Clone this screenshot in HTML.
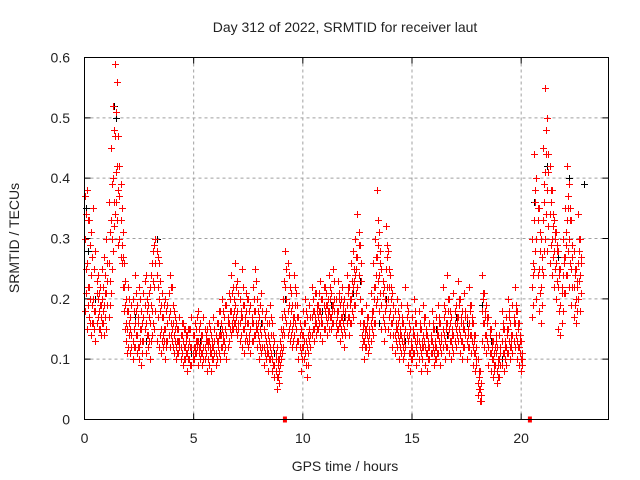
<!DOCTYPE html>
<html><head><meta charset="utf-8"><style>
html,body{margin:0;padding:0;background:#fff}
svg{display:block;font-family:"Liberation Sans",sans-serif}
</style></head><body>
<svg id="chart" width="640" height="480" viewBox="0 0 640 480">
<text x="345" y="32" font-size="14" text-anchor="middle" fill="#222">Day 312 of 2022, SRMTID for receiver laut</text>
<text x="345" y="471" font-size="14" text-anchor="middle" fill="#222">GPS time / hours</text>
<text transform="translate(19,238) rotate(-90)" font-size="14" text-anchor="middle" fill="#222">SRMTID / TECUs</text>
<g id="grid"></g>
<g id="ticks"></g>
<g id="black"></g>
<g id="red"></g>
<rect x="84.5" y="57.5" width="524" height="362" fill="none" stroke="#000" stroke-width="1"/>
</svg>
<script>
const xTicks=[0,5,10,15,20];
const yTicks=[0,0.1,0.2,0.3,0.4,0.5,0.6];
const yTickLabels=["0","0.1","0.2","0.3","0.4","0.5","0.6"];
const hours=[0.0,0.1,0.2,0.3,0.4,0.5,0.6,0.7,0.8,0.9,1.0,1.1,1.2,1.3,1.4,1.5,1.6,1.7,1.8,1.9,2.0,2.1,2.2,2.3,2.4,2.5,2.6,2.7,2.8,2.9,3.0,3.1,3.2,3.3,3.4,3.5,3.6,3.7,3.8,3.9,4.0,4.1,4.2,4.3,4.4,4.5,4.6,4.7,4.8,4.9,5.0,5.1,5.2,5.3,5.4,5.5,5.6,5.7,5.8,5.9,6.0,6.1,6.2,6.3,6.4,6.5,6.6,6.7,6.8,6.9,7.0,7.1,7.2,7.3,7.4,7.5,7.6,7.7,7.8,7.9,8.0,8.1,8.2,8.3,8.4,8.5,8.6,8.7,8.8,8.9,9.0,9.1,9.2,9.3,9.4,9.5,9.6,9.7,9.8,9.9,10.0,10.1,10.2,10.3,10.4,10.5,10.6,10.7,10.8,10.9,11.0,11.1,11.2,11.3,11.4,11.5,11.6,11.7,11.8,11.9,12.0,12.1,12.2,12.3,12.4,12.5,12.6,12.7,12.8,12.9,13.0,13.1,13.2,13.3,13.4,13.5,13.6,13.7,13.8,13.9,14.0,14.1,14.2,14.3,14.4,14.5,14.6,14.7,14.8,14.9,15.0,15.1,15.2,15.3,15.4,15.5,15.6,15.7,15.8,15.9,16.0,16.1,16.2,16.3,16.4,16.5,16.6,16.7,16.8,16.9,17.0,17.1,17.2,17.3,17.4,17.5,17.6,17.7,17.8,17.9,18.0,18.1,18.2,18.3,18.4,18.5,18.6,18.7,18.8,18.9,19.0,19.1,19.2,19.3,19.4,19.5,19.6,19.7,19.8,19.9,20.0,20.5,20.6,20.7,20.8,20.9,21.0,21.1,21.2,21.3,21.4,21.5,21.6,21.7,21.8,21.9,22.0,22.1,22.2,22.3,22.4,22.5,22.6,22.7];
const redVals=[[0.37,0.30,0.18],[0.38,0.26,0.15],[0.33,0.22,0.17],[0.31,0.24,0.14],[0.35,0.20,0.16],[0.28,0.18,0.13],[0.24,0.17,0.20],[0.22,0.15,0.19],[0.20,0.16,0.25],[0.27,0.14,0.19],[0.30,0.21,0.15],[0.36,0.26,0.17],[0.45,0.33,0.21],[0.52,0.40,0.28],[0.59,0.47,0.34],[0.56,0.42,0.33],[0.42,0.37,0.30],[0.35,0.29,0.26],[0.26,0.22,0.18],[0.20,0.16,0.13],[0.18,0.12,0.22],[0.17,0.11,0.15],[0.20,0.13,0.10],[0.24,0.16,0.12],[0.19,0.14,0.11],[0.22,0.12,0.10],[0.18,0.15,0.09],[0.21,0.13,0.17],[0.16,0.11,0.24],[0.19,0.14,0.12],[0.22,0.16,0.10],[0.26,0.18,0.14],[0.29,0.22,0.15],[0.28,0.24,0.13],[0.26,0.20,0.12],[0.19,0.15,0.11],[0.17,0.12,0.14],[0.20,0.15,0.10],[0.16,0.13,0.19],[0.24,0.18,0.12],[0.22,0.15,0.13],[0.18,0.14,0.11],[0.16,0.12,0.10],[0.15,0.11,0.13],[0.14,0.10,0.12],[0.13,0.09,0.16],[0.12,0.10,0.15],[0.14,0.08,0.11],[0.13,0.10,0.15],[0.12,0.09,0.17],[0.14,0.10,0.12],[0.15,0.11,0.13],[0.13,0.09,0.18],[0.16,0.12,0.10],[0.14,0.11,0.09],[0.12,0.10,0.15],[0.15,0.13,0.08],[0.13,0.09,0.16],[0.11,0.08,0.14],[0.17,0.12,0.10],[0.14,0.11,0.09],[0.16,0.12,0.13],[0.18,0.14,0.10],[0.20,0.15,0.12],[0.17,0.13,0.11],[0.19,0.14,0.10],[0.21,0.16,0.13],[0.24,0.18,0.14],[0.22,0.17,0.15],[0.26,0.19,0.16],[0.23,0.18,0.14],[0.20,0.16,0.13],[0.25,0.17,0.12],[0.19,0.15,0.11],[0.18,0.14,0.21],[0.16,0.12,0.20],[0.19,0.15,0.11],[0.22,0.16,0.13],[0.25,0.18,0.14],[0.20,0.15,0.12],[0.17,0.13,0.10],[0.21,0.14,0.11],[0.15,0.12,0.09],[0.18,0.13,0.10],[0.14,0.11,0.08],[0.19,0.12,0.10],[0.16,0.10,0.08],[0.13,0.09,0.07],[0.12,0.07,0.05],[0.10,0.08,0.06],[0.15,0.12,0.10],[0.20,0.15,0.12],[0.28,0.22,0.17],[0.26,0.18,0.14],[0.22,0.16,0.13],[0.19,0.15,0.12],[0.24,0.17,0.14],[0.21,0.15,0.12],[0.17,0.13,0.10],[0.15,0.11,0.08],[0.18,0.14,0.12],[0.20,0.16,0.11],[0.17,0.12,0.07],[0.19,0.15,0.13],[0.22,0.17,0.14],[0.18,0.15,0.13],[0.21,0.16,0.14],[0.19,0.17,0.15],[0.23,0.18,0.14],[0.20,0.16,0.13],[0.22,0.18,0.15],[0.19,0.16,0.14],[0.24,0.18,0.15],[0.21,0.17,0.15],[0.25,0.19,0.16],[0.20,0.16,0.14],[0.23,0.18,0.15],[0.19,0.16,0.13],[0.22,0.17,0.14],[0.20,0.15,0.12],[0.24,0.19,0.16],[0.22,0.17,0.14],[0.26,0.20,0.16],[0.28,0.22,0.17],[0.30,0.24,0.19],[0.34,0.27,0.22],[0.29,0.20,0.16],[0.18,0.14,0.12],[0.16,0.13,0.10],[0.19,0.15,0.12],[0.17,0.13,0.11],[0.21,0.16,0.13],[0.26,0.18,0.14],[0.30,0.22,0.16],[0.38,0.27,0.20],[0.31,0.24,0.18],[0.25,0.19,0.15],[0.22,0.16,0.13],[0.32,0.25,0.19],[0.28,0.20,0.15],[0.24,0.18,0.14],[0.21,0.16,0.12],[0.18,0.14,0.11],[0.20,0.15,0.12],[0.17,0.13,0.10],[0.19,0.14,0.11],[0.16,0.12,0.10],[0.22,0.15,0.12],[0.18,0.13,0.09],[0.15,0.11,0.08],[0.17,0.12,0.10],[0.20,0.14,0.11],[0.16,0.12,0.09],[0.18,0.13,0.10],[0.15,0.11,0.08],[0.19,0.14,0.12],[0.17,0.12,0.09],[0.14,0.11,0.08],[0.16,0.12,0.10],[0.18,0.13,0.11],[0.15,0.11,0.09],[0.17,0.12,0.10],[0.19,0.14,0.11],[0.16,0.12,0.09],[0.22,0.15,0.12],[0.18,0.13,0.10],[0.24,0.16,0.12],[0.20,0.15,0.11],[0.17,0.13,0.10],[0.21,0.14,0.11],[0.19,0.15,0.12],[0.23,0.17,0.13],[0.20,0.14,0.11],[0.18,0.13,0.10],[0.21,0.15,0.12],[0.17,0.13,0.10],[0.22,0.16,0.12],[0.19,0.14,0.11],[0.16,0.12,0.09],[0.14,0.11,0.08],[0.10,0.06,0.04],[0.08,0.05,0.03],[0.24,0.18,0.13],[0.21,0.16,0.12],[0.19,0.14,0.11],[0.17,0.12,0.09],[0.15,0.11,0.08],[0.13,0.10,0.07],[0.16,0.12,0.09],[0.12,0.08,0.06],[0.14,0.10,0.07],[0.18,0.13,0.09],[0.15,0.11,0.08],[0.17,0.12,0.09],[0.20,0.15,0.11],[0.16,0.12,0.10],[0.19,0.14,0.11],[0.22,0.16,0.12],[0.18,0.13,0.10],[0.16,0.12,0.09],[0.13,0.10,0.08],[0.30,0.22,0.17],[0.44,0.33,0.25],[0.40,0.30,0.20],[0.35,0.25,0.18],[0.30,0.22,0.16],[0.45,0.33,0.24],[0.55,0.41,0.30],[0.50,0.38,0.28],[0.42,0.34,0.26],[0.38,0.30,0.24],[0.33,0.28,0.22],[0.31,0.26,0.20],[0.28,0.22,0.15],[0.25,0.19,0.14],[0.30,0.24,0.18],[0.35,0.27,0.21],[0.42,0.33,0.24],[0.39,0.30,0.22],[0.33,0.25,0.19],[0.28,0.22,0.17],[0.25,0.20,0.16],[0.34,0.26,0.20],[0.30,0.24,0.18]];
const redValsB=[[0.34,0.25,0.21],[0.33,0.22,0.19],[0.29,0.20,0.16],[0.27,0.19,0.16],[0.25,0.18,0.15],[0.23,0.16,0.21],[0.21,0.18,0.15],[0.19,0.17,0.14],[0.22,0.18,0.16],[0.24,0.17,0.21],[0.26,0.19,0.23],[0.31,0.23,0.19],[0.39,0.30,0.25],[0.48,0.36,0.32],[0.51,0.41,0.36],[0.47,0.38,0.29],[0.39,0.33,0.27],[0.31,0.27,0.22],[0.23,0.19,0.15],[0.18,0.15,0.11],[0.20,0.16,0.14],[0.19,0.14,0.12],[0.18,0.15,0.12],[0.21,0.18,0.14],[0.17,0.12,0.16],[0.20,0.15,0.13],[0.16,0.13,0.11],[0.23,0.19,0.15],[0.18,0.14,0.20],[0.21,0.17,0.13],[0.24,0.19,0.13],[0.28,0.23,0.16],[0.30,0.26,0.18],[0.27,0.22,0.17],[0.23,0.18,0.14],[0.21,0.17,0.13],[0.19,0.15,0.13],[0.18,0.13,0.12],[0.21,0.17,0.14],[0.22,0.16,0.14],[0.19,0.16,0.12],[0.17,0.15,0.13],[0.15,0.13,0.11],[0.17,0.13,0.12],[0.16,0.11,0.14],[0.15,0.12,0.10],[0.14,0.11,0.13],[0.12,0.10,0.15],[0.15,0.12,0.09],[0.14,0.11,0.10],[0.16,0.12,0.11],[0.13,0.12,0.17],[0.15,0.11,0.12],[0.14,0.13,0.11],[0.17,0.12,0.10],[0.14,0.11,0.13],[0.13,0.12,0.10],[0.15,0.11,0.12],[0.13,0.10,0.12],[0.15,0.13,0.11],[0.16,0.13,0.10],[0.18,0.14,0.11],[0.16,0.12,0.14],[0.18,0.13,0.14],[0.19,0.15,0.12],[0.17,0.16,0.12],[0.20,0.18,0.15],[0.21,0.16,0.15],[0.20,0.18,0.16],[0.22,0.17,0.15],[0.21,0.16,0.15],[0.18,0.17,0.14],[0.22,0.19,0.15],[0.17,0.16,0.13],[0.20,0.16,0.13],[0.18,0.14,0.13],[0.17,0.16,0.13],[0.20,0.18,0.14],[0.23,0.16,0.15],[0.18,0.16,0.14],[0.19,0.15,0.12],[0.18,0.16,0.12],[0.17,0.14,0.11],[0.16,0.12,0.11],[0.16,0.13,0.10],[0.17,0.14,0.11],[0.14,0.12,0.09],[0.11,0.10,0.08],[0.10,0.09,0.07],[0.13,0.11,0.09],[0.17,0.14,0.11],[0.23,0.18,0.14],[0.25,0.20,0.16],[0.24,0.19,0.15],[0.21,0.18,0.14],[0.17,0.16,0.13],[0.22,0.19,0.16],[0.19,0.17,0.13],[0.16,0.14,0.12],[0.14,0.12,0.10],[0.16,0.13,0.10],[0.18,0.13,0.09],[0.14,0.11,0.09],[0.17,0.14,0.12],[0.20,0.18,0.15],[0.21,0.17,0.16],[0.19,0.18,0.15],[0.21,0.18,0.16],[0.20,0.17,0.16],[0.22,0.19,0.15],[0.21,0.19,0.17],[0.20,0.18,0.17],[0.22,0.20,0.17],[0.19,0.18,0.16],[0.23,0.20,0.18],[0.18,0.17,0.15],[0.21,0.20,0.16],[0.20,0.17,0.15],[0.19,0.18,0.16],[0.18,0.17,0.14],[0.22,0.21,0.17],[0.20,0.19,0.16],[0.23,0.21,0.18],[0.25,0.23,0.19],[0.27,0.25,0.21],[0.31,0.29,0.24],[0.26,0.23,0.18],[0.16,0.15,0.13],[0.15,0.14,0.12],[0.17,0.16,0.14],[0.15,0.14,0.12],[0.18,0.17,0.15],[0.22,0.20,0.16],[0.27,0.24,0.19],[0.33,0.29,0.23],[0.28,0.26,0.21],[0.23,0.21,0.17],[0.20,0.18,0.15],[0.29,0.27,0.22],[0.25,0.22,0.17],[0.22,0.20,0.16],[0.19,0.17,0.14],[0.16,0.15,0.13],[0.18,0.16,0.14],[0.15,0.14,0.12],[0.17,0.16,0.13],[0.14,0.13,0.11],[0.19,0.17,0.14],[0.16,0.14,0.11],[0.13,0.12,0.10],[0.15,0.14,0.11],[0.18,0.16,0.13],[0.14,0.13,0.11],[0.16,0.15,0.12],[0.13,0.12,0.10],[0.17,0.16,0.13],[0.15,0.14,0.11],[0.13,0.12,0.10],[0.14,0.13,0.11],[0.16,0.15,0.12],[0.13,0.12,0.10],[0.15,0.14,0.11],[0.17,0.16,0.13],[0.14,0.13,0.11],[0.19,0.17,0.14],[0.16,0.15,0.12],[0.20,0.18,0.14],[0.18,0.16,0.13],[0.15,0.14,0.12],[0.18,0.16,0.13],[0.17,0.16,0.14],[0.20,0.19,0.15],[0.17,0.16,0.13],[0.16,0.15,0.12],[0.18,0.17,0.14],[0.15,0.14,0.12],[0.19,0.18,0.14],[0.17,0.16,0.13],[0.14,0.13,0.11],[0.12,0.10,0.09],[0.08,0.07,0.05],[0.06,0.04,0.03],[0.21,0.20,0.16],[0.18,0.17,0.14],[0.17,0.16,0.13],[0.15,0.14,0.11],[0.13,0.12,0.10],[0.11,0.09,0.08],[0.14,0.13,0.11],[0.10,0.09,0.07],[0.12,0.11,0.09],[0.16,0.15,0.11],[0.13,0.12,0.10],[0.15,0.14,0.11],[0.18,0.17,0.13],[0.14,0.13,0.12],[0.17,0.16,0.13],[0.19,0.18,0.14],[0.16,0.15,0.12],[0.14,0.13,0.11],[0.11,0.10,0.09],[0.26,0.24,0.19],[0.38,0.36,0.28],[0.35,0.33,0.24],[0.31,0.28,0.21],[0.27,0.25,0.19],[0.39,0.36,0.28],[0.48,0.44,0.34],[0.44,0.41,0.32],[0.38,0.36,0.29],[0.34,0.32,0.27],[0.31,0.30,0.25],[0.29,0.28,0.23],[0.25,0.24,0.18],[0.22,0.21,0.16],[0.27,0.26,0.21],[0.31,0.29,0.24],[0.37,0.35,0.28],[0.35,0.33,0.26],[0.29,0.27,0.22],[0.25,0.24,0.19],[0.23,0.22,0.18],[0.30,0.28,0.23],[0.27,0.26,0.21]];
const blackHours=[0.05,0.15,0.5,1.35,1.45,1.6,2.3,3.3,3.6,4.4,5.3,6.2,7.0,8.1,9.2,10.4,11.3,12.6,13.5,14.2,15.3,16.1,17.0,18.2,19.5,20.6,21.2,21.7,22.2,22.9,2.8,4.9,6.6,7.6,8.7,10.9,11.9,12.3,13.8,14.7,15.8,16.6,17.5,18.6,19.1];
const blackVals=[0.35,0.28,0.20,0.52,0.50,0.30,0.17,0.30,0.14,0.12,0.13,0.15,0.18,0.16,0.20,0.17,0.19,0.23,0.16,0.14,0.13,0.15,0.17,0.19,0.12,0.36,0.42,0.27,0.40,0.39,0.13,0.11,0.16,0.15,0.11,0.18,0.17,0.21,0.20,0.13,0.12,0.14,0.16,0.13,0.10];
const markerHours=[9.18,20.4];

const X0=84.5,X1=608.5,Y0=419.5,Y1=57.5,XMAX=24,YMAX=0.6;
const xs=h=>X0+(X1-X0)*h/XMAX;
const ys=v=>Y0-(Y0-Y1)*v/YMAX;
const NS="http://www.w3.org/2000/svg";
function mk(tag,parent){const e=document.createElementNS(NS,tag);document.getElementById(parent).appendChild(e);return e;}

xTicks.forEach((t,i)=>{
  const x=xs(t);
  if(i>0){const g=mk('line','grid');
    
    
    g.setAttribute('x1',x);g.setAttribute('x2',x);g.setAttribute('y1',Y1);g.setAttribute('y2',Y0);
    g.setAttribute('stroke','#a0a0a0');g.setAttribute('stroke-dasharray','3,3');}
  const tk=mk('path','ticks');
  
  
  tk.setAttribute('d',`M${x},${Y0}v-6M${x},${Y1}v6`);tk.setAttribute('stroke','#000');
  const tx=mk('text','ticks');
  
  
  tx.setAttribute('x',x);tx.setAttribute('y',443);tx.setAttribute('font-size','14');tx.setAttribute('text-anchor','middle');tx.setAttribute('fill','#222');
  tx.textContent=String(t);
});
yTicks.forEach((t,i)=>{
  const y=ys(t);
  if(i>0&&i<yTicks.length-1){const g=mk('line','grid');
    
    
    g.setAttribute('x1',X0);g.setAttribute('x2',X1);g.setAttribute('y1',y);g.setAttribute('y2',y);
    g.setAttribute('stroke','#a0a0a0');g.setAttribute('stroke-dasharray','3,3');}
  const tk=mk('path','ticks');
  
  
  tk.setAttribute('d',`M${X0},${y}h6M${X1},${y}h-6`);tk.setAttribute('stroke','#000');
  const tx=mk('text','ticks');
  
  
  tx.setAttribute('x',70);tx.setAttribute('y',y+5);tx.setAttribute('font-size','14');tx.setAttribute('text-anchor','end');tx.setAttribute('fill','#222');
  tx.textContent=yTickLabels[i];
});
function plus(parent,h,v,color,name){
  const x=Math.round(xs(h))+0.5,y=Math.round(ys(v))+0.5;
  const p=mk('path',parent);
  
  
  p.setAttribute('d',`M${x-3.5},${y}h7M${x},${y-3.5}v7`);
  p.setAttribute('stroke',color);p.setAttribute('stroke-width','1');
}
blackHours.forEach((h,i)=>plus('black',h,blackVals[i],'#000','black-point'));
hours.forEach((h,i)=>{
  redVals[i].forEach(v=>plus('red',h,v,'#ff0000','red-point'));
  redValsB[i].forEach(v=>plus('red',h+0.05,v,'#ff0000','red-point'));
});
markerHours.forEach(h=>{
  const r=mk('rect','red');
  
  
  r.setAttribute('x',xs(h)-2);r.setAttribute('y',Y0-3);r.setAttribute('width',4);r.setAttribute('height',6);r.setAttribute('fill','#ff0000');
});
</script>
</body></html>
